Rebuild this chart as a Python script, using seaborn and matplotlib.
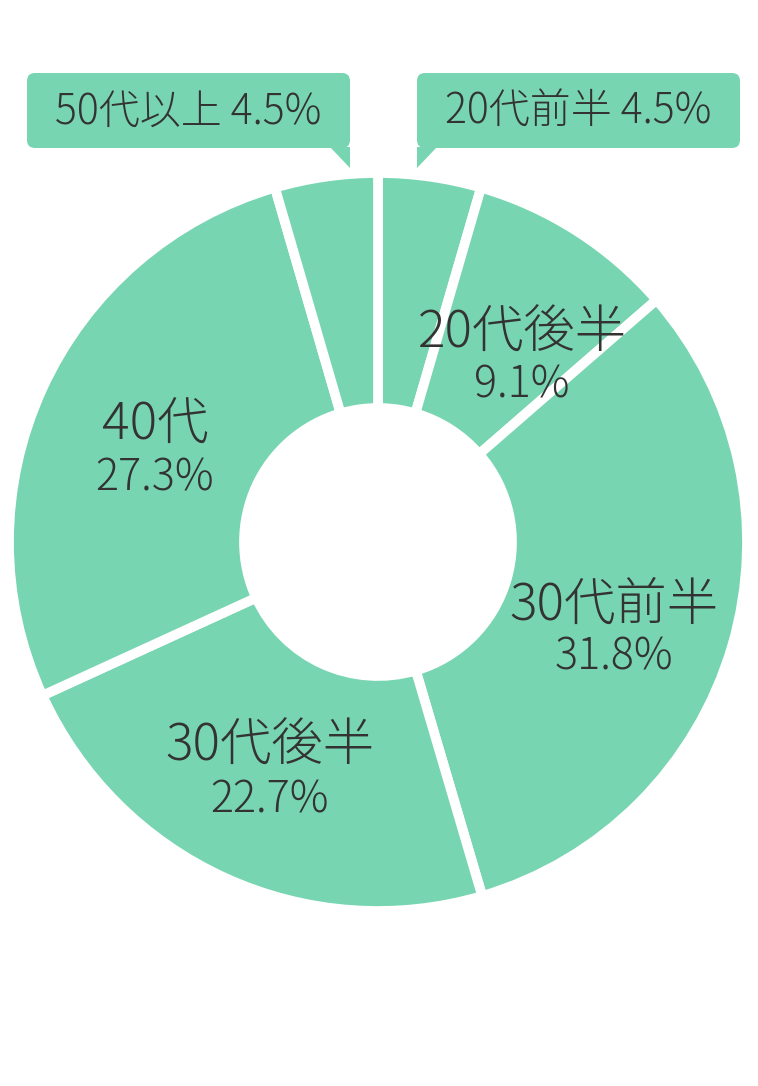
import numpy as np
import matplotlib
matplotlib.use('Agg')
import matplotlib.pyplot as plt
import seaborn as sns
from matplotlib.patches import FancyBboxPatch, Polygon

sns.set_style('white')
plt.rcParams['font.family'] = ['Noto Sans CJK JP', 'DejaVu Sans']

# データ（時計回り、上から）
labels = ['20代前半', '20代後半', '30代前半', '30代後半', '40代', '50代以上']
values = [4.5, 9.1, 31.8, 22.7, 27.3, 4.5]
pct_text = ['4.5%', '9.1%', '31.8%', '22.7%', '27.3%', '4.5%']

W, H = 758, 1086
green = '#78d5b2'
txt = '#333333'

def py(y):
    # 画像の上からのピクセル -> データ座標
    return H - y

fig = plt.figure(figsize=(W / 100, H / 100), dpi=100)
ax = fig.add_axes([0, 0, 1, 1])
ax.axis('off')

ax.pie(values, colors=[green] * len(values), startangle=90, counterclock=False,
       center=(378, py(542)), radius=369,
       wedgeprops=dict(width=235, edgecolor='white', linewidth=7))
ax.set_xlim(0, W)
ax.set_ylim(0, H)
ax.set_aspect('auto')

# スライス内ラベル
inside = {1: (522, 333, 385), 2: (614, 605, 657), 3: (270, 746, 800), 4: (155, 425, 478)}
for i, (x, y1, y2) in inside.items():
    ax.text(x, py(y1), labels[i], ha='center', va='center', fontsize=37,
            color=txt, fontweight='light')
    ax.text(x, py(y2), pct_text[i], ha='center', va='center', fontsize=31,
            color=txt, fontweight='light')

# 吹き出し（小さいスライス）
def callout(x0, x1, tip, base, text):
    box = FancyBboxPatch((x0, py(148)), x1 - x0, 75,
                         boxstyle='round,pad=0,rounding_size=8',
                         facecolor=green, edgecolor='none')
    ax.add_patch(box)
    ax.add_patch(Polygon([(base[0], py(147)), (base[1], py(147)), (tip, py(168))],
                         closed=True, facecolor=green, edgecolor='none'))
    ax.text((x0 + x1) / 2, py(112), text, ha='center', va='center', fontsize=29.5,
            color=txt, fontweight='light')

callout(27, 350, 350, (330, 350), labels[5] + ' ' + pct_text[5])
callout(417, 740, 417, (417, 437), labels[0] + ' ' + pct_text[0])

fig.savefig('out.png', dpi=100, facecolor='white')
